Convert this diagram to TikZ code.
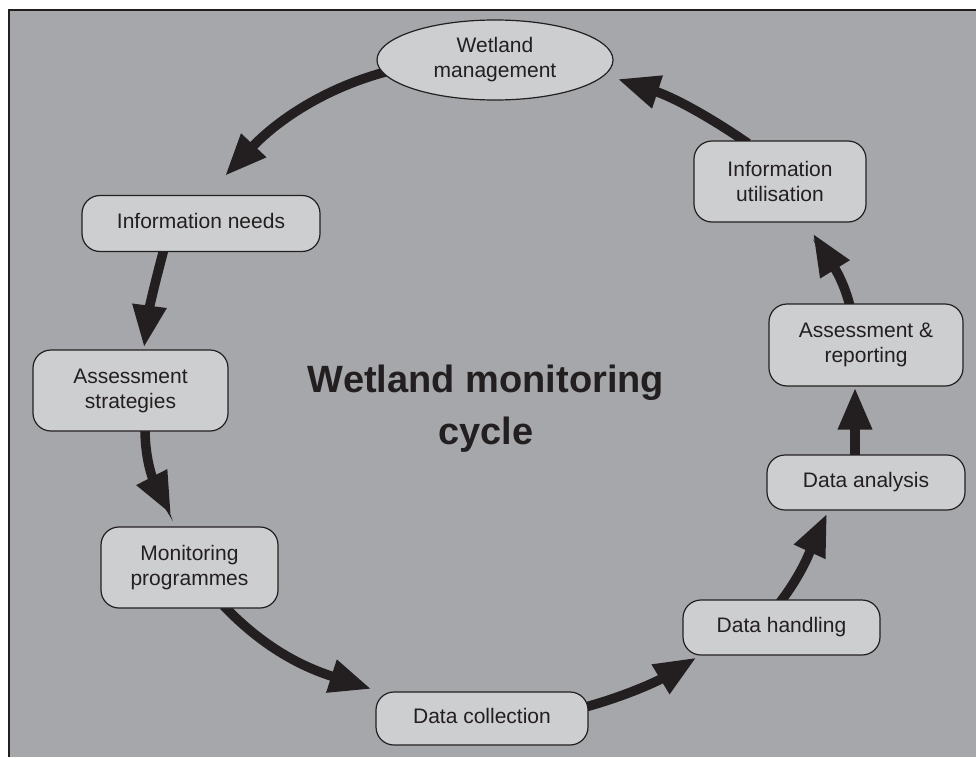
\documentclass[tikz,border=0pt]{standalone}
\usepackage{fontspec}
\setmainfont{Liberation Sans}
\usetikzlibrary{arrows.meta,calc,shapes.geometric}
\definecolor{bggray}{HTML}{A6A7AB}
\definecolor{boxfill}{HTML}{CDCED0}
\definecolor{ink}{HTML}{231F20}
\pgfdeclarelayer{background}
\pgfsetlayers{background,main}
\tikzset{
  box/.style={draw=ink, line width=1.2pt, fill=boxfill, rounded corners=18pt,
    align=center, text=ink, font=\fontsize{21}{25}\selectfont, inner sep=0pt},
  oneline/.style={text height=15pt, text depth=4.5pt},
  cyc/.style={draw=ink, line width=9.5pt, -{Triangle[length=42pt,width=32pt]}},
  titletext/.style={text=ink, font=\fontsize{38}{52}\selectfont\bfseries, align=center, inner sep=0pt}
}
\begin{document}
\begin{tikzpicture}[x=1pt,y=-1pt]
\useasboundingbox (0,0) rectangle (976,757);
% nodes
\node[box, shape=ellipse, sharp corners, minimum width=236pt, minimum height=80pt] (wm) at (495,60) {Wetland\\management};
\node[box, oneline, minimum width=238pt, minimum height=56pt] (in) at (201,223.5) {Information needs};
\node[box, minimum width=195pt, minimum height=81pt] (as) at (130.5,390.5) {Assessment\\strategies};
\node[box, minimum width=177pt, minimum height=81pt] (mp) at (189.5,567.5) {Monitoring\\programmes};
\node[box, oneline, minimum width=212pt, minimum height=53pt] (dc) at (482,718.5) {Data collection};
\node[box, oneline, minimum width=197pt, minimum height=55pt] (dh) at (781.5,627.5) {Data handling};
\node[box, oneline, minimum width=198pt, minimum height=55pt] (da) at (866,482.5) {Data analysis};
\node[box, minimum width=194pt, minimum height=82pt] (ar) at (866,345) {Assessment \&\\reporting};
\node[box, minimum width=172pt, minimum height=81pt] (iu) at (780,181.5) {Information\\utilisation};
\node[titletext] (title) at (486,409) {Wetland monitoring\\cycle};
% background and connectors
\begin{pgfonlayer}{background}
\fill[white] (0,0) rectangle (976,757);
\fill[bggray] (9,10) rectangle (976,757);
\draw[ink, line width=1.5pt] (9,757) -- (9,10) -- (976,10);
\draw[cyc] ($(wm.186)+(4,0)$) .. controls +(-67,18) and +(48,-51) .. ($(in.north)+(24,-19)$);
\draw[cyc] ($(in.south)+(-37,-3)$) .. controls +(-10,37) and +(5,-38) .. ($(as.north)+(13.5,-2)$);
\draw[cyc] ($(as.south)+(14.5,-3)$) .. controls +(0,35) and +(-16,-31) .. ($(mp.north)+(-18.5,-12)$);
\draw[cyc] ($(mp.south)+(34,-3)$) .. controls +(45,47) and +(-62,-20) .. ($(dc.west)+(-4,-29.5)$);
\draw[cyc] ($(dc.east)+(-3,-11.5)$) .. controls +(43,-12) and +(-38,23) .. ($(dh.south west)+(14,2)$);
\draw[cyc] ($(dh.north)+(-1.5,3)$) .. controls +(23,-30) and +(-16,35) .. ($(da.south)+(-39,3)$);
\draw[cyc] ($(da.north)+(-11,3)$) -- ($(ar.south)+(-11,1)$);
\draw[cyc] ($(ar.north)+(-16,3)$) .. controls +(-7,-29) and +(16,26) .. ($(iu.south)+(33,11)$);
\draw[cyc] ($(iu.north)+(-32,3)$) .. controls +(-45,-31) and +(52,17) .. ($(wm.east)+(4,19)$);
\end{pgfonlayer}
\end{tikzpicture}
\end{document}
